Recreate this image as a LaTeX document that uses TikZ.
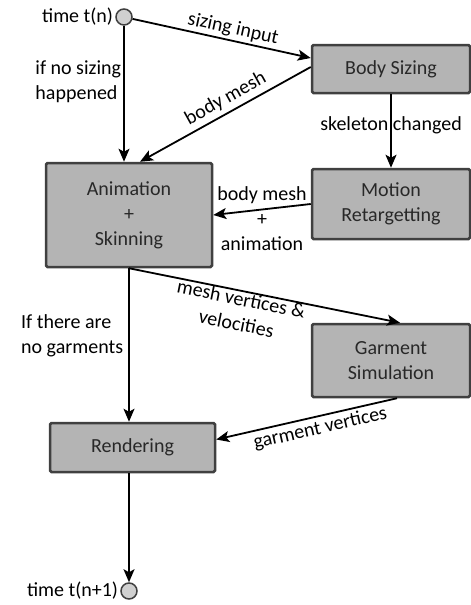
\documentclass[tikz,border=0pt]{standalone}
\usepackage{fontspec}
\setmainfont{Carlito}
\usetikzlibrary{arrows.meta}
\definecolor{boxfill}{RGB}{180,180,180}
\definecolor{boxline}{RGB}{64,64,64}
\definecolor{boxtext}{RGB}{40,40,40}
\definecolor{dotfill}{RGB}{208,208,208}

\begin{document}
\begin{tikzpicture}[x=1pt,y=-1pt,
  box/.style={draw=boxline, fill=boxfill, line width=2.5pt,
    rounded corners=1.5pt, text=boxtext, align=center,
    font=\fontsize{20}{25}\selectfont, inner sep=0pt},
  dot/.style={circle, draw=boxline, fill=dotfill, line width=1.5pt,
    minimum size=16pt, inner sep=0pt},
  flow/.style={line width=1.8pt,
    -{Stealth[length=13pt,width=11pt,inset=3pt]}},
  lbl/.style={font=\fontsize{20}{25}\selectfont, align=center, inner sep=2pt}
]
  \useasboundingbox (0,0) rectangle (471,605);

  % start and end of one time step
  \node[dot, label={[lbl]left:time t(n)}] (start) at (124,17) {};
  \node[dot, label={[lbl]left:time t(n+1)}] (stop) at (129,591) {};

  % stages
  \node[box, minimum width=158, minimum height=48] (sizing) at (391,69) {Body Sizing};
  \node[box, minimum width=166, minimum height=104] (anim) at (129,215)
    {Animation\\+\\Skinning};
  \node[box, minimum width=158, minimum height=70] (retarget) at (391,204)
    {Motion\\Retargetting};
  \node[box, minimum width=158, minimum height=73] (garment) at (391,360.5)
    {Garment\\Simulation};
  \node[box, minimum width=165, minimum height=49] (render) at (132.5,447.5) {Rendering};

  % connectors
  \draw[flow] (start) -- (start |- anim.north)
    node[lbl, pos=.41, left, align=left] {if no sizing\\happened};
  \draw[flow] (start) -- ([yshift=11pt]sizing.west)
    node[lbl, pos=.55, sloped, above] {sizing input};
  \draw[flow] ([yshift=2pt]sizing.west) -- ([xshift=11pt]anim.north)
    node[lbl, pos=.46, sloped, above, inner sep=4pt] {body mesh};
  \draw[flow] (sizing) -- (retarget)
    node[lbl, pos=.42] {skeleton changed};
  \draw[flow] (retarget.west) -- (anim.east)
    node[lbl, pos=.5, yshift=-9pt] {body mesh\\+\\animation};
  \draw[flow] (anim.south) -- ([xshift=9pt]garment.north)
    node[lbl, pos=.42, sloped, below, inner sep=0pt] {mesh vertices \&\\velocities};
  \draw[flow] (anim.south) -- (anim.south |- render.north)
    node[lbl, pos=.44, left, align=left, inner sep=5pt] {If there are\\no garments};
  \draw[flow] ([xshift=6pt]garment.south) -- ([yshift=8pt]render.east)
    node[lbl, pos=.44, sloped, below, inner sep=3pt] {garment vertices};
  \draw[flow] (render.south -| stop) -- (stop);
\end{tikzpicture}
\end{document}
